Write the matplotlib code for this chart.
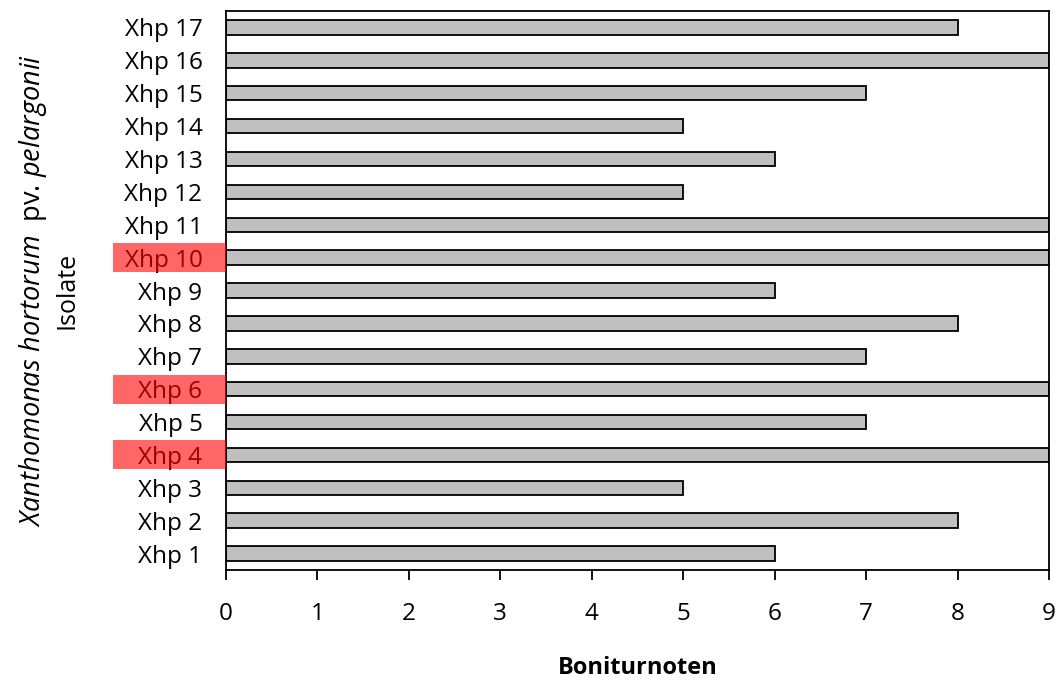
import matplotlib
matplotlib.use('Agg')
import matplotlib.pyplot as plt
from matplotlib.patches import Rectangle

plt.rcParams['font.family'] = 'Open Sans'
plt.rcParams['mathtext.fontset'] = 'custom'
plt.rcParams['mathtext.it'] = 'Open Sans:italic'
plt.rcParams['mathtext.rm'] = 'Open Sans'

# Isolates, bottom to top
isolates = ['Xhp %d' % i for i in range(1, 18)]
scores = [6, 8, 5, 9, 7, 9, 7, 8, 6, 9, 9, 5, 6, 5, 7, 9, 8]
highlighted = ['Xhp 4', 'Xhp 6', 'Xhp 10']
xticks = list(range(0, 10))

fig = plt.figure(figsize=(10.63, 6.81), dpi=100)
ax = fig.add_axes([0.2126, 0.163, 0.7742, 0.8208])

pos = list(range(1, len(isolates) + 1))
ax.barh(pos, scores, height=0.44, color='#c0c0c0', edgecolor='black', linewidth=1.3, zorder=2)

ax.set_xlim(0, 9)
ax.set_ylim(0.5, len(isolates) + 0.5)
ax.set_xticks(xticks)
ax.set_yticks(pos)
ax.set_yticklabels(isolates)
ax.tick_params(axis='x', direction='out', length=7, width=1.3, labelsize=17.5, pad=16)
ax.tick_params(axis='y', length=0, labelsize=17.5, pad=17)
for s in ax.spines.values():
    s.set_linewidth(1.3)

# red highlight boxes on top of labels
trans = ax.get_yaxis_transform()
for name in highlighted:
    y = pos[isolates.index(name)]
    ax.add_patch(Rectangle((-0.137, y - 0.44), 0.137, 0.88, transform=trans,
                           facecolor='red', alpha=0.6, edgecolor='none',
                           clip_on=False, zorder=5))

ax.set_xlabel('Boniturnoten', fontsize=17, fontweight='bold', labelpad=22)
fig.text(0.031, 0.574, r'$\it{Xanthomonas\ hortorum}$  pv. $\it{pelargonii}$',
         rotation=90, ha='center', va='center', fontsize=19.5)
fig.text(0.063, 0.574, 'Isolate', rotation=90, ha='center', va='center', fontsize=18)

fig.savefig('out.png', dpi=100)
